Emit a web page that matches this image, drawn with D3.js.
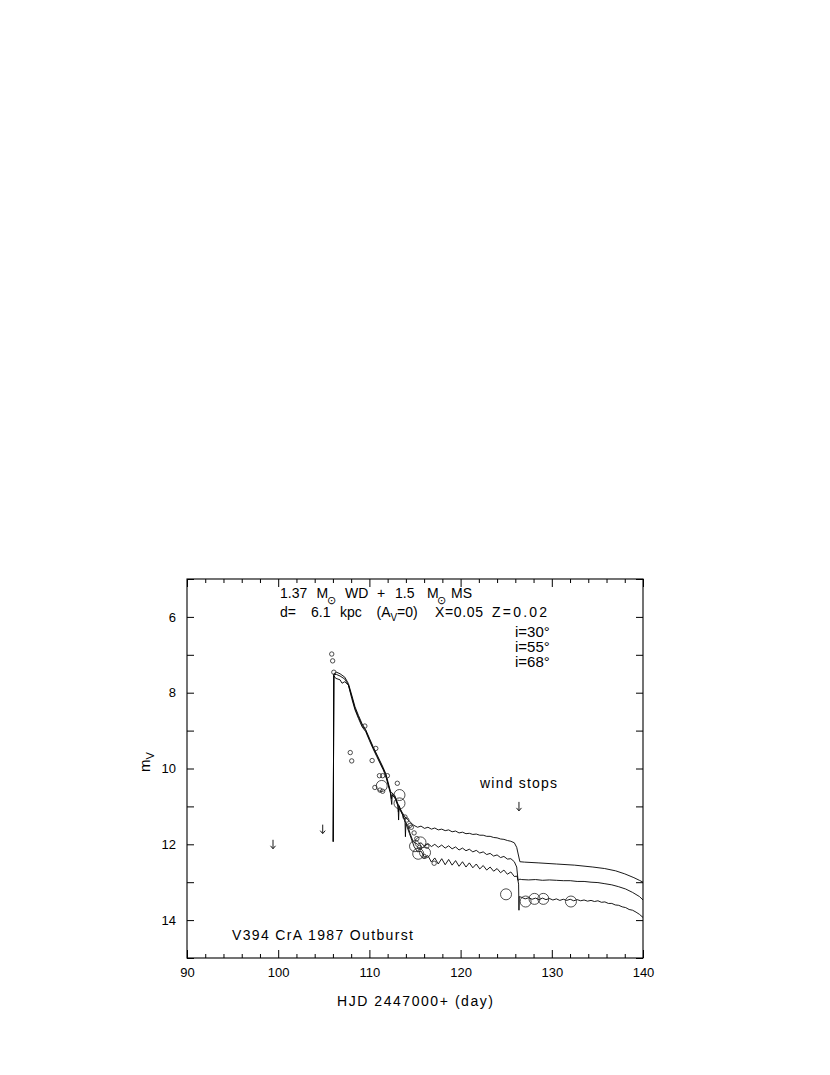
<!DOCTYPE html>
<html><head><meta charset="utf-8">
<script src="https://cdn.jsdelivr.net/npm/d3@7"></script>
<style>
body{margin:0;background:#fff;}
svg{display:block;}
text{font-family:"Liberation Sans",Arial,sans-serif;fill:#000;}
</style></head><body>
<svg id="chart" width="830" height="1075"></svg>
<script>
// ---------- data ----------
const xTicksMajor = [90,100,110,120,130,140];
const xTicksMinor = [92,94,96,98,102,104,106,108,112,114,116,118,122,124,126,128,132,134,136,138];
const yTicks = [5,6,7,8,9,10,11,12,13,14,15];
const yTickLabels = [6,8,10,12,14];

// model light curves [day, mV]
const curveI30 = [[106.03,11.93],[106.1,7.5],[106.4,7.46],[106.78,7.5],[107.3,7.59],[107.7,7.76],[108.06,8.06],[108.42,8.37],[108.8,8.6],[109.2,8.82],[109.6,8.98],[110.0,9.2],[110.4,9.42],[110.8,9.62],[111.16,9.8],[111.5,9.97],[111.8,10.14],[112.07,10.38],[112.3,10.6],[112.8,10.72],[113.1,10.92],[113.5,11.12],[113.9,11.28],[114.27,11.36],[114.8,11.49],[115.28,11.55],[115.66,11.52],[116.04,11.58],[116.42,11.55],[116.8,11.6],[117.17,11.57],[117.55,11.62],[117.93,11.6],[118.31,11.64],[118.69,11.62],[119.07,11.67],[119.45,11.65],[119.83,11.7],[120.21,11.68],[120.59,11.72],[120.96,11.71],[121.34,11.74],[121.72,11.73],[122.1,11.76],[122.48,11.76],[122.86,11.79],[123.24,11.79],[123.62,11.82],[124.0,11.83],[124.38,11.86],[124.75,11.87],[125.13,11.9],[125.51,11.92],[125.89,11.96],[126.15,12.08],[126.5,12.46],[127.0,12.47],[128.5,12.49],[130.5,12.52],[132.5,12.55],[134.5,12.6],[135.8,12.64],[137.0,12.7],[138.0,12.78],[139.0,12.88],[139.6,12.95],[140.0,13.0]];

const curveI55 = [[106.03,11.93],[106.1,7.52],[106.4,7.52],[106.78,7.56],[107.3,7.64],[107.7,7.8],[108.06,8.1],[108.42,8.42],[108.8,8.64],[109.2,8.86],[109.6,9.0],[110.0,9.23],[110.4,9.45],[110.8,9.65],[111.16,9.83],[111.5,10.0],[111.8,10.17],[112.07,10.42],[112.3,10.62],[112.42,10.8],[112.5,10.66],[112.8,10.75],[113.1,10.95],[113.18,11.15],[113.25,10.98],[113.6,11.2],[113.9,11.4],[114.2,11.5],[114.45,11.71],[114.8,11.93],[115.28,12.0],[115.66,11.96],[116.04,12.05],[116.42,11.98],[116.8,12.06],[117.17,12.0],[117.55,12.08],[117.93,12.02],[118.31,12.1],[118.69,12.04],[119.07,12.12],[119.45,12.07],[119.83,12.15],[120.21,12.1],[120.59,12.17],[120.96,12.13],[121.34,12.2],[121.72,12.16],[122.1,12.23],[122.48,12.2],[122.86,12.27],[123.24,12.24],[123.62,12.31],[124.0,12.28],[124.38,12.35],[124.75,12.32],[125.13,12.39],[125.51,12.38],[125.89,12.46],[126.15,12.6],[126.3,12.95],[126.5,12.92],[126.7,12.93],[127.46,12.94],[128.22,12.93],[128.98,12.95],[129.74,12.94],[130.5,12.95],[131.26,12.96],[132.02,12.96],[132.78,12.98],[133.54,12.98],[134.3,13.0],[135.06,13.01],[135.82,13.04],[136.58,13.07],[137.34,13.12],[138.1,13.18],[138.86,13.27],[139.62,13.38],[140.0,13.47]];

const curveI68 = [[106.03,11.93],[106.1,7.55],[106.3,7.62],[106.78,7.66],[107.0,7.75],[107.3,7.71],[107.7,7.8],[108.06,8.15],[108.42,8.45],[108.8,8.68],[109.2,8.9],[109.6,9.03],[110.0,9.26],[110.4,9.48],[110.8,9.68],[111.16,9.86],[111.5,10.03],[111.8,10.2],[112.07,10.45],[112.3,10.65],[112.45,10.95],[112.5,10.7],[112.8,10.78],[113.15,11.0],[113.2,11.36],[113.25,11.05],[113.6,11.2],[113.9,11.35],[113.95,11.8],[114.0,11.45],[114.4,11.72],[114.9,12.06],[115.28,12.2],[115.66,12.18],[116.04,12.34],[116.42,12.3],[116.8,12.47],[117.17,12.36],[117.55,12.52],[117.93,12.38],[118.31,12.54],[118.69,12.4],[119.07,12.55],[119.45,12.43],[119.83,12.58],[120.21,12.46],[120.59,12.6],[120.96,12.49],[121.34,12.62],[121.72,12.52],[122.1,12.65],[122.48,12.56],[122.86,12.68],[123.24,12.6],[123.62,12.71],[124.0,12.64],[124.38,12.75],[124.75,12.68],[125.13,12.79],[125.51,12.73],[125.89,12.85],[126.2,12.84],[126.36,13.05],[126.4,13.74],[126.43,13.38],[126.7,13.4],[127.08,13.44],[127.46,13.41],[127.84,13.45],[128.22,13.42],[128.6,13.46],[128.98,13.42],[129.36,13.46],[129.74,13.43],[130.12,13.47],[130.5,13.44],[130.88,13.48],[131.26,13.45],[131.64,13.48],[132.02,13.45],[132.4,13.49],[132.78,13.46],[133.16,13.49],[133.54,13.47],[133.92,13.5],[134.3,13.48],[134.68,13.51],[135.06,13.49],[135.44,13.53],[135.82,13.52],[136.2,13.56],[136.58,13.56],[136.96,13.6],[137.34,13.61],[137.72,13.65],[138.1,13.67],[138.48,13.72],[138.86,13.74],[139.24,13.79],[139.62,13.85],[140.0,13.93]];

// observations [day, mV]
const obsSmall = [[105.87,6.98],[105.97,7.16],[106.1,7.46],[109.5,8.88],[107.9,9.58],[108.06,9.8],[110.3,9.79],[110.7,9.47],[111.1,10.19],[111.45,10.19],[111.97,10.19],[110.6,10.5],[111.16,10.57],[111.45,10.6],[113.06,10.39],[113.9,11.28],[114.1,11.36],[114.45,11.5],[114.6,11.55],[114.9,11.7],[115.2,11.85],[115.5,12.08],[116.3,12.05],[116.0,12.32],[117.1,12.5]];
const obsLarge = [[111.35,10.46],[113.3,10.7],[113.3,10.92],[115.0,12.05],[115.35,12.25],[116.1,12.22],[115.6,11.95],[124.98,13.32],[127.13,13.51],[128.1,13.44],[129.07,13.44],[132.1,13.51]];

// upper limits (arrows) [day, mV]
const upperLimits = [[99.43,12.0],[104.88,11.6]];
const windStop = [126.4,11.0];

// ---------- drawing ----------
const svg = d3.select("#chart");
const x = d3.scaleLinear().domain([90,140]).range([187,643]);
const y = d3.scaleLinear().domain([5,15]).range([579,958]);

// frame
svg.append("rect").attr("x",x(90)).attr("y",y(5)).attr("width",x(140)-x(90)).attr("height",y(15)-y(5))
  .attr("fill","none").attr("stroke","#000").attr("stroke-width",1.1);

function styleAxis(g){ g.select(".domain").remove(); g.selectAll("line").attr("stroke","#000").attr("stroke-width",1); }

// bottom
svg.append("g").attr("transform",`translate(0,${y(15)})`)
  .call(d3.axisBottom(x).tickValues(xTicksMajor).tickSize(-8).tickPadding(10).tickFormat(d3.format("d")))
  .call(styleAxis).call(g=>g.selectAll("text").attr("font-size",13).attr("font-family","Liberation Sans, Arial, sans-serif"));
svg.append("g").attr("transform",`translate(0,${y(15)})`)
  .call(d3.axisBottom(x).tickValues(xTicksMinor).tickSize(-4).tickFormat(""))
  .call(styleAxis);
// top
svg.append("g").attr("transform",`translate(0,${y(5)})`)
  .call(d3.axisTop(x).tickValues(xTicksMajor).tickSize(-8).tickFormat(""))
  .call(styleAxis);
svg.append("g").attr("transform",`translate(0,${y(5)})`)
  .call(d3.axisTop(x).tickValues(xTicksMinor).tickSize(-4).tickFormat(""))
  .call(styleAxis);
// left
svg.append("g").attr("transform",`translate(${x(90)},0)`)
  .call(d3.axisLeft(y).tickValues(yTicks).tickSize(-7).tickPadding(11).tickFormat(d=>yTickLabels.includes(d)?d:""))
  .call(styleAxis).call(g=>g.selectAll("text").attr("font-size",13).attr("font-family","Liberation Sans, Arial, sans-serif"));
// right
svg.append("g").attr("transform",`translate(${x(140)},0)`)
  .call(d3.axisRight(y).tickValues(yTicks).tickSize(-7).tickFormat(""))
  .call(styleAxis);

// curves
const line = d3.line().x(d=>x(d[0])).y(d=>y(d[1]));
svg.append("clipPath").attr("id","clip").append("rect")
  .attr("x",x(90)).attr("y",y(5)).attr("width",x(140)-x(90)).attr("height",y(15)-y(5));
[curveI30,curveI55,curveI68].forEach(c=>{
  svg.append("path").datum(c).attr("d",line).attr("fill","none").attr("stroke","#000")
    .attr("stroke-width",0.9).attr("stroke-linejoin","round").attr("clip-path","url(#clip)");
});

// observations
svg.append("g").selectAll("circle").data(obsSmall).join("circle")
  .attr("cx",d=>x(d[0])).attr("cy",d=>y(d[1])).attr("r",2.2)
  .attr("fill","none").attr("stroke","#222").attr("stroke-width",0.8);
svg.append("g").selectAll("circle").data(obsLarge).join("circle")
  .attr("cx",d=>x(d[0])).attr("cy",d=>y(d[1])).attr("r",5.5)
  .attr("fill","none").attr("stroke","#222").attr("stroke-width",0.8);

// arrows
function arrow(d){
  const cx=x(d[0]), cy=y(d[1]);
  svg.append("path").attr("d",`M${cx},${cy-4.5}L${cx},${cy+4}M${cx-2.5},${cy+1.5}L${cx},${cy+4.5}L${cx+2.5},${cy+1.5}`)
    .attr("fill","none").attr("stroke","#000").attr("stroke-width",0.9);
}
upperLimits.forEach(arrow);
arrow(windStop);

// texts
const F = 14;
function seg(parent, str, xx, yy, opts={}){
  const t = parent.append("text").attr("x",xx).attr("y",yy).attr("font-size",opts.size||F).text(str);
  if(opts.len) t.attr("textLength",opts.len).attr("lengthAdjust","spacing");
  if(opts.family) t.attr("font-family",opts.family);
  return t;
}
const T = svg.append("g");
// line 1
seg(T,"1.37",280,598);
seg(T,"M",316.5,598);
seg(T,"⊙",326.5,604,{size:11,family:"DejaVu Sans"});
seg(T,"WD",345,598);
seg(T,"+",377,598);
seg(T,"1.5",395,598);
seg(T,"M",427,598);
seg(T,"⊙",437,604,{size:11,family:"DejaVu Sans"});
seg(T,"MS",451,598);
// line 2
seg(T,"d=",280,617);
seg(T,"6.1",311,617);
seg(T,"kpc",340,617);
seg(T,"(A",376.5,617);
seg(T,"V",390.5,621,{size:10});
seg(T,"=0)",397,617);
seg(T,"X=0.05",435,617,{len:48});
seg(T,"Z=0.02",492,617,{len:55});
// inclinations
seg(T,"i=30°",515,637,{size:15});
seg(T,"i=55°",515,652,{size:15});
seg(T,"i=68°",515,667,{size:15});
// annotations
seg(T,"wind stops",480,788,{len:77});
seg(T,"V394 CrA 1987 Outburst",232,940,{len:181});
// axis titles
seg(T,"HJD 2447000+ (day)",337,1006,{len:156});
const yl = svg.append("text").attr("transform","translate(150,772) rotate(-90)").attr("font-size",15);
yl.append("tspan").text("m");
yl.append("tspan").attr("dy",4).attr("font-size",11).text("V");
</script>
</body></html>
